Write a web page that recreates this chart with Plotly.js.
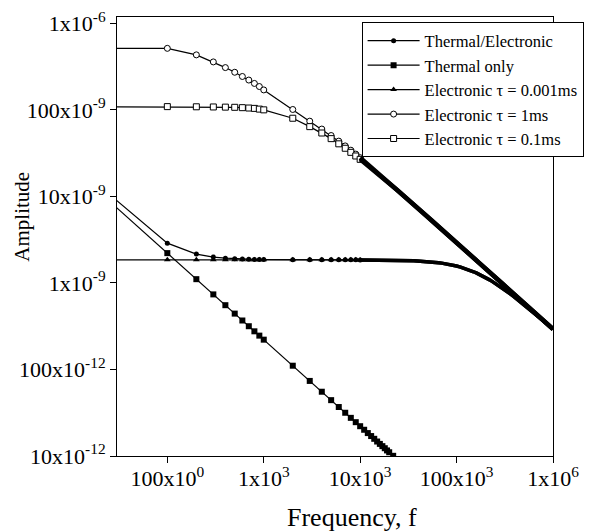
<!DOCTYPE html>
<html>
<head>
<meta charset="utf-8">
<script src="https://cdn.plot.ly/plotly-3.0.1.min.js"></script>
<style>html,body{margin:0;padding:0;background:#fff;}#chart{width:590px;height:532px;}</style>
</head>
<body>
<div id="chart"></div>
<script>
// Frequency samples (Hz)
const freq = [10, 100,200,300,400,500,600,700,800,900,
  1000,2000,3000,4000,5000,6000,7000,8000,9000,
  10000,11000,12000,13000,14000,15000,16000,17000,18000,19000,20000,
  22000,24000,26000,28000,30000,33000,36000,39000,42000,46000,
  50000,55000,60000,65000,70000,75000,80000,85000,90000,95000,
  100000,110000,120000,130000,140000,150000,160000,170000,180000,190000,200000,
  220000,240000,260000,280000,300000,330000,360000,390000,420000,460000,
  500000,550000,600000,650000,700000,750000,800000,850000,900000,950000,1000000];

// Amplitudes in units of 1e-9
const thermalElectronic = [25.0, 2.88,2.155,1.991,1.931,1.902,1.886,1.877,1.870,1.866,
  1.863,1.853,1.851,1.850,1.850,1.849,1.848,1.848,1.847,
  1.846,1.846,1.845,1.844,1.843,1.842,1.841,1.839,1.838,1.837,1.836,
  1.833,1.829,1.826,1.822,1.818,1.811,1.804,1.797,1.789,1.777,
  1.765,1.749,1.731,1.713,1.693,1.674,1.653,1.632,1.610,1.589,
  1.566,1.522,1.477,1.433,1.389,1.346,1.305,1.264,1.225,1.188,1.152,
  1.085,1.022,0.966,0.914,0.867,0.804,0.748,0.699,0.655,0.605,
  0.561,0.514,0.474,0.440,0.410,0.384,0.361,0.340,0.322,0.306,0.291];

const thermalOnly = [22.1, 2.21,1.105,0.737,0.553,0.442,0.368,0.316,0.276,0.246,
  0.221,0.1105,0.0737,0.0553,0.0442,0.0368,0.0316,0.0276,0.0246,
  0.0221,0.0201,0.0184,0.0170,0.0158,0.0147,0.0138,0.0130,0.0123,0.0116,0.01105,
  0.01005,0.0092];

const electronic0001 = [1.85, 1.85,1.85,1.85,1.85,1.85,1.85,1.85,1.85,1.85,
  1.85,1.85,1.85,1.849,1.849,1.849,1.848,1.848,1.847,
  1.846,1.846,1.845,1.844,1.843,1.842,1.841,1.839,1.838,1.837,1.836,
  1.833,1.829,1.826,1.822,1.818,1.811,1.804,1.797,1.789,1.777,
  1.765,1.749,1.731,1.713,1.693,1.674,1.653,1.632,1.610,1.589,
  1.566,1.522,1.477,1.433,1.389,1.346,1.305,1.264,1.225,1.188,1.152,
  1.085,1.022,0.966,0.914,0.867,0.804,0.748,0.699,0.655,0.605,
  0.561,0.514,0.474,0.440,0.410,0.384,0.361,0.340,0.322,0.306,0.291];

const electronic1 = [514, 514,432,358,308,272,243,221,202,186,
  170,101,74,60,50.5,43.5,38.3,34.2,30.8,
  28.0,25.57,23.52,21.77,20.26,18.94,17.80,16.79,15.87,15.07,14.33,
  13.05,11.99,11.09,10.30,9.63,8.76,8.04,7.43,6.91,6.31,
  5.83,5.30,4.86,4.49,4.17,3.89,3.65,3.43,3.24,3.07,
  2.92,2.66,2.44,2.25,2.09,1.95,1.83,1.72,1.63,1.54,1.46,
  1.33,1.22,1.13,1.05,0.977,0.888,0.814,0.751,0.698,0.637,
  0.586,0.533,0.488,0.451,0.419,0.391,0.366,0.345,0.326,0.308,0.293];

const electronic01 = [109, 109,108.5,108,107.5,107,106,105,104,102,
  100,80,64,54,46.5,40.5,36,32.3,29.3,
  26.8,24.64,22.78,21.19,19.80,18.57,17.49,16.53,15.66,14.88,14.18,
  12.95,11.92,11.03,10.26,9.60,8.75,8.03,7.43,6.91,6.31,
  5.83,5.30,4.86,4.49,4.17,3.89,3.65,3.43,3.24,3.07,
  2.92,2.66,2.44,2.25,2.09,1.95,1.83,1.72,1.63,1.54,1.46,
  1.33,1.22,1.13,1.05,0.977,0.888,0.814,0.751,0.698,0.637,
  0.586,0.533,0.488,0.451,0.419,0.391,0.366,0.345,0.326,0.308,0.293];

const seriesNames = ['Thermal/Electronic', 'Thermal only', 'Electronic \u03c4 = 0.001ms',
  'Electronic \u03c4 = 1ms', 'Electronic \u03c4 = 0.1ms'];

const xTickVals = [100, 1e3, 1e4, 1e5, 1e6];
const xTickText = ['100x10<sup>0</sup>', '1x10<sup>3</sup>', '10x10<sup>3</sup>', '100x10<sup>3</sup>', '1x10<sup>6</sup>'];
const yTickVals = [1e-6, 1e-7, 1e-8, 1e-9, 1e-10, 1e-11];
const yTickText = ['1x10<sup>-6</sup>', '100x10<sup>-9</sup>', '10x10<sup>-9</sup>', '1x10<sup>-9</sup>', '100x10<sup>-12</sup>', '10x10<sup>-12</sup>'];
const xTitle = 'Frequency, f';
const yTitle = 'Amplitude';

const NANO = 1e-9;
const toAmp = arr => arr.map(v => v * NANO);
const FONT = 'Liberation Serif, Times New Roman, serif';

// index where markers merge into a continuous dense band (10 kHz)
const DENSE_START = freq.indexOf(10000);

const styles = [
  {symbol: 'circle', size: 5, color: '#000', lw: 0, band: 3.5},
  {symbol: 'square', size: 6, color: '#000', lw: 0, band: 0},
  {symbol: 'triangle-up', size: 6, color: '#000', lw: 0, band: 3.5},
  {symbol: 'circle', size: 6, color: '#fff', lw: 1, band: 4.5},
  {symbol: 'square', size: 6, color: '#fff', lw: 1, band: 4.5}
];
const series = [thermalElectronic, thermalOnly, electronic0001, electronic1, electronic01];

const traces = [];
series.forEach((s, i) => {
  const st = styles[i];
  const n = st.band ? DENSE_START + 1 : s.length;
  traces.push({
    type: 'scatter', mode: 'lines+markers', name: seriesNames[i], legendrank: i + 1,
    x: freq.slice(0, n), y: toAmp(s.slice(0, n)),
    line: {color: '#000', width: 1.2},
    marker: {symbol: st.symbol, size: st.size, color: st.color, line: {color: '#000', width: st.lw}}
  });
});
// dense high-frequency portions, drawn as a continuous band
series.forEach((s, i) => {
  const st = styles[i];
  if (!st.band) return;
  traces.push({
    type: 'scatter', mode: 'lines', showlegend: false, name: seriesNames[i],
    x: freq.slice(DENSE_START, s.length), y: toAmp(s.slice(DENSE_START)),
    line: {color: '#000', width: st.band}
  });
});

const layout = {
  width: 590, height: 532,
  margin: {l: 117, r: 36.5, t: 17, b: 76, autoexpand: false},
  paper_bgcolor: '#fff', plot_bgcolor: '#fff',
  font: {family: FONT, color: '#000'},
  showlegend: true,
  hovermode: false,
  xaxis: {
    type: 'log', range: [1.478, 6],
    tickvals: xTickVals, ticktext: xTickText,
    ticks: 'outside', ticklen: 6, tickcolor: '#000', tickwidth: 1,
    ticklabelstandoff: -3,
    showline: true, mirror: true, linecolor: '#000', linewidth: 1,
    showgrid: false, zeroline: false,
    tickfont: {family: FONT, size: 22, color: '#000'}
  },
  yaxis: {
    type: 'log', range: [-11, -5.927],
    tickvals: yTickVals, ticktext: yTickText,
    ticks: 'outside', ticklen: 6, tickcolor: '#000', tickwidth: 1,
    showline: true, mirror: true, linecolor: '#000', linewidth: 1,
    showgrid: false, zeroline: false,
    tickfont: {family: FONT, size: 22, color: '#000'}
  },
  annotations: [
    {text: xTitle, xref: 'paper', yref: 'paper', x: 0.540, y: -0.141,
     xanchor: 'center', yanchor: 'middle', showarrow: false,
     font: {family: FONT, size: 26, color: '#000'}},
    {text: yTitle, xref: 'paper', yref: 'paper', x: -0.217, y: 0.546,
     xanchor: 'center', yanchor: 'middle', showarrow: false, textangle: -90,
     font: {family: FONT, size: 21, color: '#000'}}
  ],
  legend: {
    x: 0.561, y: 0.9875, xanchor: 'left', yanchor: 'top',
    bgcolor: '#fff', bordercolor: '#000', borderwidth: 1,
    font: {family: FONT, size: 16.5, color: '#000'},
    itemwidth: 52, tracegroupgap: 0, traceorder: 'normal'
  }
};

Plotly.newPlot('chart', traces, layout, {displayModeBar: false, staticPlot: true});
</script>
</body>
</html>
